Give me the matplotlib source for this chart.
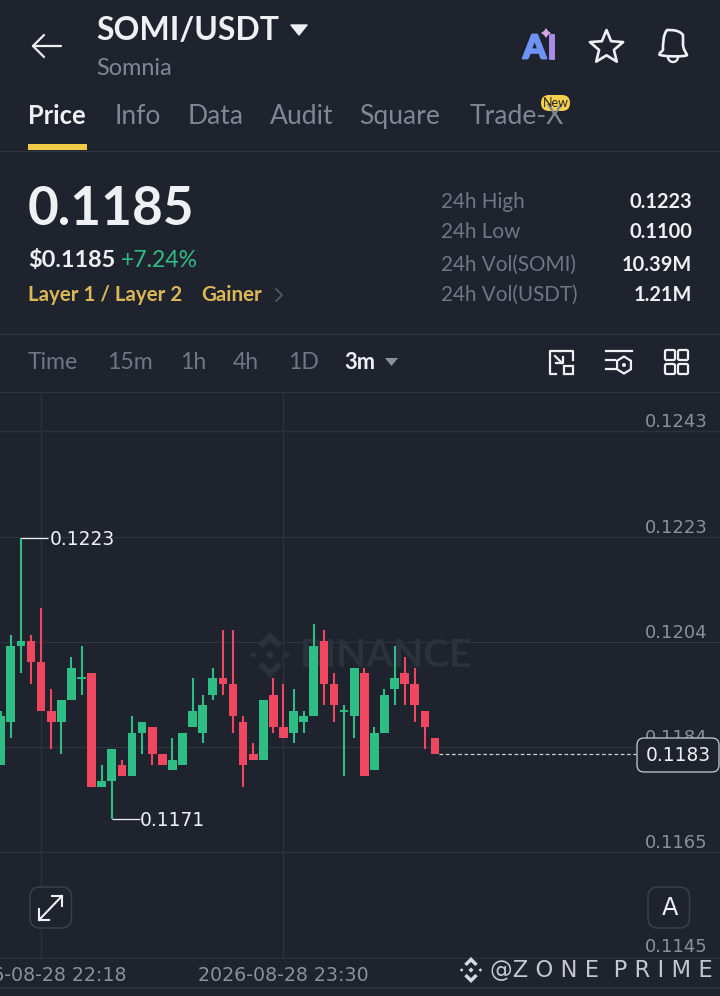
import matplotlib
matplotlib.use("Agg")
import matplotlib.pyplot as plt
import matplotlib.patheffects as pe
import numpy as np
from matplotlib.patches import FancyBboxPatch, Polygon, Rectangle, PathPatch, Circle
from matplotlib.path import Path
from matplotlib.transforms import ScaledTranslation

# candles, oldest first (3m)
opens = [.1181,.1189,.1203,.1204,.1200,.1191,.1189,.1193,.1197,.1198,.1177,
         .1178,.1181,.1179,.1187,.1188,.1183,.1180,.1181,.1188,.1187,.1194,
         .1197,.1196,.1189,.1183,.1182,.1194,.1188,.1187,.1189,.1190,.1204,
         .1196,.1191,.1190,.1198,.1180,.1187,.1195,.1198,.1196,.1191,.1186]
highs = [.1191,.1205,.1223,.1205,.1210,.1195,.1193,.1201,.1203,.1198,.1181,
         .1184,.1182,.1190,.1189,.1188,.1183,.1186,.1187,.1197,.1194,.1199,
         .1206,.1206,.1190,.1185,.1193,.1197,.1196,.1195,.1191,.1207,.1206,
         .1198,.1192,.1199,.1199,.1188,.1195,.1203,.1201,.1199,.1191,.1186]
lows = [.1181,.1186,.1198,.1196,.1191,.1184,.1183,.1193,.1194,.1177,.1177,
        .1171,.1179,.1179,.1183,.1181,.1181,.1180,.1181,.1188,.1185,.1193,
        .1194,.1187,.1177,.1182,.1182,.1187,.1186,.1185,.1187,.1190,.1192,
        .1189,.1179,.1186,.1179,.1180,.1187,.1192,.1192,.1189,.1184,.1183]
closes = [.1190,.1203,.1204,.1200,.1191,.1189,.1193,.1199,.1197,.1177,.1178,
          .1184,.1179,.1187,.1189,.1183,.1181,.1182,.1187,.1191,.1192,.1197,
          .1196,.1190,.1181,.1182,.1193,.1188,.1186,.1191,.1190,.1203,.1196,
          .1192,.1191,.1199,.1179,.1187,.1194,.1197,.1196,.1192,.1188,.1183]

price_ticks = [0.12428, 0.12232, 0.12038, 0.11843, 0.11649, 0.11453]
price_labels = ['0.1243', '0.1223', '0.1204', '0.1184', '0.1165', '0.1145']
time_ticks = [4, 28]
time_labels = ['2026-08-28 22:18', '2026-08-28 23:30']
last_price = 0.1183

tabs = ['Price', 'Info', 'Data', 'Audit', 'Square', 'Trade-X']
intervals = ['Time', '15m', '1h', '4h', '1D', '3m']
stat_names = ['24h High', '24h Low', '24h Vol(SOMI)', '24h Vol(USDT)']
stat_values = ['0.1223', '0.1100', '10.39M', '1.21M']

BG = '#1e232d'
GRID = '#2c323c'
LINE = '#2e343e'
GREEN = '#2ebd85'
RED = '#f0465f'
GRAY = '#7f8794'
WHITE = '#eef0f3'
YELLOW = '#dbb757'
FONT = 'Lato'

plt.rcParams['font.family'] = FONT

fig = plt.figure(figsize=(7.2, 9.96), dpi=100, facecolor=BG)

# ui layer works in image pixels
ui = fig.add_axes([0, 0, 1, 1], zorder=2)
ui.set_xlim(0, 720)
ui.set_ylim(996, 0)
ui.axis('off')
ui.patch.set_alpha(0)


def px(size):
    return size * 0.72


def txt(x, y, s, size, color=WHITE, weight='normal', ha='left', **kw):
    return ui.text(x, y + 1, s, fontsize=px(size), color=color, fontweight=weight,
                   ha=ha, va='center', **kw)


def binance_logo(axis, cx, cy, s, color, z=3):
    tr = ui.transData
    d = 0.2 * s
    for dx, dy, r in [(0, 0, 1.0), (-0.72 * s, 0, 0.7), (0.72 * s, 0, 0.7)]:
        axis.add_patch(Polygon([(cx + dx - d * r, cy + dy), (cx + dx, cy + dy - d * r),
                                (cx + dx + d * r, cy + dy), (cx + dx, cy + dy + d * r)],
                               fc=color, ec='none', transform=tr, zorder=z))
    for sign in (-1, 1):
        axis.add_patch(Polygon([(cx, cy + sign * s), (cx + 0.52 * s, cy + sign * 0.48 * s),
                                (cx + 0.33 * s, cy + sign * 0.3 * s), (cx, cy + sign * 0.62 * s),
                                (cx - 0.33 * s, cy + sign * 0.3 * s), (cx - 0.52 * s, cy + sign * 0.48 * s)],
                               fc=color, ec='none', transform=tr, zorder=z))


# chart
ax = fig.add_axes([0, (996 - 959) / 996, 1, (959 - 392) / 996], zorder=1)
ax.patch.set_alpha(0)
ax.set_xlim(-0.07, 71.22)
ax.set_ylim(0.11451, 0.12500)
for sp in ax.spines.values():
    sp.set_visible(False)

ax.set_yticks(price_ticks)
ax.set_yticklabels(price_labels)
ax.yaxis.tick_right()
ax.tick_params(axis='y', length=0, pad=-9, labelsize=px(18), labelcolor='#8a919c', direction='in')
for lab in ax.get_yticklabels():
    lab.set_ha('right')
    lab.set_va('bottom')
    lab.set_fontfamily('DejaVu Sans')
# bottom label sits a little higher
last_lab = ax.get_yticklabels()[-1]
last_lab.set_transform(last_lab.get_transform() + ScaledTranslation(0, 2 / 100, fig.dpi_scale_trans))
ax.set_xticks(time_ticks)
ax.set_xticklabels(time_labels)
ax.tick_params(axis='x', length=0, pad=5, labelsize=px(19), labelcolor='#8a919c')
for lab in ax.get_xticklabels():
    lab.set_fontfamily('DejaVu Sans')
ax.grid(True, color=GRID, lw=1.0)
ax.set_axisbelow(True)

idx = np.arange(len(opens))
o = np.array(opens)
h = np.array(highs)
l = np.array(lows)
c = np.array(closes)
colors = [GREEN if cl >= op else RED for op, cl in zip(o, c)]
ax.vlines(idx, l, h, colors=colors, lw=1.5, zorder=3)
ax.bar(idx, np.abs(c - o), bottom=np.minimum(o, c), width=0.86, color=colors, zorder=4)
flat = o == c
ax.hlines(o[flat], idx[flat] - 0.42, idx[flat] + 0.42, colors=GREEN, lw=1.4, zorder=4)

# last price line
ax.hlines(last_price, idx[-1] + 0.4, 62.9, colors='#c9cdd3', lw=0.9, linestyles=(0, (3, 2)), zorder=3)

# high / low markers
hi = int(np.argmax(h))
lo = int(np.argmin(l))
ax.hlines(h[hi], hi, hi + 2.7, colors=WHITE, lw=0.9, zorder=5)
ax.hlines(l[lo], lo, lo + 2.75, colors=WHITE, lw=0.9, zorder=5)
ax.annotate('%.4f' % h[hi], (hi + 2.85, h[hi]), xytext=(0, -1.4), textcoords='offset points', color=WHITE,
            fontsize=px(18.6), va='center', family='DejaVu Sans', zorder=5)
ax.annotate('%.4f' % l[lo], (lo + 2.8, l[lo]), xytext=(0, -1.4), textcoords='offset points', color=WHITE,
            fontsize=px(18.6), va='center', family='DejaVu Sans', zorder=5)

# chart watermark
ax.text(300, 655, 'BINANCE', transform=ui.transData, color='#2b323c', fontsize=px(39),
        fontweight='bold', va='center', zorder=1)
binance_logo(ax, 270, 655, 23, '#2b323c', z=1)

# header
ui.plot([33, 61], [46, 46], color=WHITE, lw=1.6, solid_capstyle='round')
ui.plot([44, 33, 44], [35, 46, 57], color=WHITE, lw=1.6, solid_capstyle='round', solid_joinstyle='round')
txt(96, 29, 'SOMI/USDT', 32, weight='bold')
ui.add_patch(Polygon([(291, 25), (307, 25), (299, 35)], fc=WHITE, ec=WHITE, lw=1, joinstyle='round'))
txt(96, 67, 'Somnia', 23.5, color=GRAY)

# ai / star / bell
thick = [pe.withStroke(linewidth=1.4, foreground='#6f93f5')]
txt(523, 48, 'A', 33, color='#6f93f5', weight='black', path_effects=thick)
txt(547, 48, 'I', 33, color='#a98be8', weight='black',
    path_effects=[pe.withStroke(linewidth=1.4, foreground='#a98be8')])
ui.add_patch(Polygon([(546, 28), (548, 31), (551, 33), (548, 35), (546, 38), (544, 35), (541, 33), (544, 31)],
                     fc='#d7a5e0', ec='none'))
ang = np.deg2rad(np.arange(0, 360, 36) - 90)
rad = np.where(np.arange(10) % 2 == 0, 17.5, 7.8)
ui.add_patch(Polygon(np.c_[606.5 + rad * np.cos(ang), 47.5 + rad * np.sin(ang)], fc='none', ec=WHITE, lw=1.9,
                     joinstyle='round'))
bell = Path([(659, 54), (663, 50), (663, 44), (663, 35), (667, 30), (673, 30), (679, 30), (683, 35), (683, 44),
             (683, 50), (687, 54), (687, 55), (687, 57), (659, 57), (659, 54)],
            [1, 2, 4, 4, 4, 4, 4, 4, 2, 4, 4, 4, 4, 2, 79])
ui.add_patch(PathPatch(bell, fc='none', ec=WHITE, lw=1.9, joinstyle='round'))
ui.plot(673 + 5 * np.cos(np.linspace(0, np.pi, 20)), 57 + 5 * np.sin(np.linspace(0, np.pi, 20)), color=WHITE, lw=1.7)

# tabs
for name, x in zip(tabs, [28, 115, 188, 270, 359, 470]):
    if name == 'Price':
        txt(x, 115, name, 25.5, weight='bold')
    else:
        txt(x, 115, name, 26.5, color=GRAY)
ui.add_patch(Rectangle((28, 144), 59, 6, fc='#f0cb45', ec='none'))
ui.add_patch(FancyBboxPatch((541, 95), 29, 16, boxstyle='round,pad=0,rounding_size=8', fc='#f5cf4f', ec='none'))
txt(555.5, 102, 'New', 12.5, color='#26261f', ha='center')
ui.plot([0, 720], [150.5, 150.5], color=LINE, lw=1)

# price block
txt(28, 208, '0.1185', 53, weight='bold')
txt(28, 259, '$0.1185', 23.5, weight='bold')
txt(121, 259, '+7.24%', 23, color=GREEN)
txt(28, 294, 'Layer 1 / Layer 2', 20.5, color=YELLOW, weight='bold')
txt(201, 294, 'Gainer', 20.5, color=YELLOW, weight='bold')
ui.plot([276, 282, 276], [289, 295, 301], color='#555c68', lw=1.2)
for name, val, y in zip(stat_names, stat_values, [201, 231, 264, 294]):
    txt(441, y, name, 20.6, color='#6f7784')
    txt(692, y, val, 20, weight='bold', ha='right')
ui.plot([0, 720], [333.5, 333.5], color=LINE, lw=1)

# interval bar
for name, x in zip(intervals, [28, 107, 180, 233, 288, 344]):
    if name == '3m':
        txt(x, 361, name, 22, weight='bold')
    else:
        txt(x, 361, name, 23, color='#6f7784')
ui.add_patch(Polygon([(385, 358), (398, 358), (391.5, 366)], fc='#8a919c', ec='none'))
ui.plot([0, 720], [391.5, 391.5], color=LINE, lw=1)

# toolbar icons
ic = dict(color=WHITE, lw=1.6)
ui.plot([560, 550, 550, 556], [351, 351, 374, 374], **ic)
ui.plot([560, 573, 573], [351, 351, 360], **ic)
ui.add_patch(Rectangle((564, 366), 9, 8, fc='none', ec=WHITE, lw=1.6))
ui.plot([555, 562], [356, 363], **ic)
ui.plot([556, 563, 563], [363, 363, 357], **ic)
ui.plot([606, 632], [351, 351], **ic)
ui.plot([606, 615], [360, 360], **ic)
ui.plot([606, 615], [369, 369], **ic)
ang6 = np.deg2rad(np.arange(0, 360, 60) + 30)
ui.add_patch(Polygon(np.c_[624 + 8 * np.cos(ang6), 365 + 8.5 * np.sin(ang6)], fc='none', ec=WHITE, lw=1.6))
ui.add_patch(Circle((624, 365), 2, fc=WHITE, ec='none'))
for bx in (665, 678):
    for by in (350, 364):
        ui.add_patch(FancyBboxPatch((bx, by), 10, 10, boxstyle='round,pad=0,rounding_size=1.5', fc='none',
                                    ec=WHITE, lw=1.6))

# last price tag
ui.add_patch(FancyBboxPatch((637, 738), 82, 34, boxstyle='round,pad=0,rounding_size=7', fc=BG, ec='#c9cdd3', lw=0.9))
txt(678, 754.5, '%.4f' % last_price, 18.6, ha='center', family='DejaVu Sans')

# chart buttons
for bx in (30, 648):
    ui.add_patch(FancyBboxPatch((bx, 887), 41.5, 41, boxstyle='round,pad=0,rounding_size=10', fc=BG, ec='#3a414c', lw=1.1))
txt(669.5, 907, 'A', 24, ha='center', family='DejaVu Sans')
ui.plot([39, 62], [920, 896], color=WHITE, lw=1.5)
ui.plot([52, 62, 62], [896, 896, 906], color=WHITE, lw=1.5)
ui.plot([39, 39, 49], [909, 920, 920], color=WHITE, lw=1.5)

# bottom
ui.plot([0, 720], [987.5, 987.5], color=LINE, lw=1.2)
binance_logo(ui, 471, 970, 13, '#d4d7db')
txt(490, 969, '@Z O N E  P R I M E', 22.6, color='#c3c7cd', family='DejaVu Sans')

fig.savefig('out.png', dpi=100, facecolor=BG)
